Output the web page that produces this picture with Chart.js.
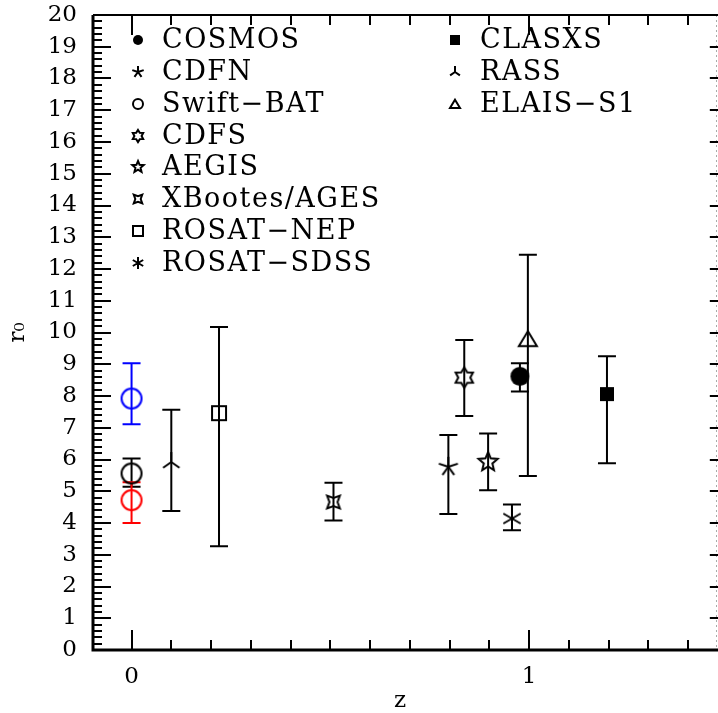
<!DOCTYPE html>
<html>
<head>
<meta charset="utf-8">
<script src="https://cdn.jsdelivr.net/npm/chart.js@4"></script>
<style>
html, body { margin: 0; padding: 0; background: #fff; overflow: hidden; }
#wrap { width: 718px; height: 713px; position: relative; }
</style>
</head>
<body>
<div id="wrap"><canvas id="r0Chart" width="718" height="713"></canvas></div>
<script>
// tick labels
const xTickValues = [0, 1];
const yTickValues = [0, 1, 2, 3, 4, 5, 6, 7, 8, 9, 10, 11, 12, 13, 14, 15, 16, 17, 18, 19, 20];

// surveys: z, r0, lower and upper end of error bar
const cosmosZ = [0.977], cosmosR = [8.62], cosmosLo = [8.14], cosmosHi = [9.03];
const cdfnZ = [0.797], cdfnR = [5.77], cdfnLo = [4.28], cdfnHi = [6.77];
const swiftZ = [0, 0, 0], swiftR = [7.92, 5.56, 4.72], swiftLo = [7.11, 5.14, 4.0], swiftHi = [9.03, 6.03, 5.28];
const cdfsZ = [0.837], cdfsR = [8.58], cdfsLo = [7.37], cdfsHi = [9.76];
const aegisZ = [0.897], aegisR = [5.92], aegisLo = [5.03], aegisHi = [6.82];
const xbootesZ = [0.508], xbootesR = [4.66], xbootesLo = [4.08], xbootesHi = [5.27];
const nepZ = [0.22], nepR = [7.46], nepLo = [3.27], nepHi = [10.17];
const sdssZ = [0.957], sdssR = [4.14], sdssLo = [3.77], sdssHi = [4.58];
const clasxsZ = [1.196], clasxsR = [8.06], clasxsLo = [5.88], clasxsHi = [9.25];
const rassZ = [0.10], rassR = [5.92], rassLo = [4.38], rassHi = [7.57];
const elaisZ = [0.997], elaisR = [9.8], elaisLo = [5.48], elaisHi = [12.45];

const swiftColors = ['#0000ff', '#000000', '#ff0000'];
const FONT = '"DejaVu Serif", "Liberation Serif", serif';

// x range: starts at z = -0.097, one unit of z is 397.5 px wide
const X_MIN = -0.097;
const X_UNIT_PX = 397.5;

// draws a marker into its own small canvas, used as pointStyle and in the legend
function marker(kind, r, color, filled) {
    const lw = 2;
    const s = Math.ceil(2 * r + 2 * lw + 2);
    const cv = document.createElement('canvas');
    cv.width = s;
    cv.height = s;
    const g = cv.getContext('2d');
    g.translate(s / 2, s / 2);
    g.strokeStyle = color;
    g.fillStyle = color;
    g.lineWidth = lw;
    g.beginPath();
    const star = (n, ri, rot) => {
        for (let i = 0; i < 2 * n; i++) {
            const a = rot + i * Math.PI / n;
            const rr = i % 2 ? ri : r;
            if (i === 0) g.moveTo(rr * Math.cos(a), rr * Math.sin(a));
            else g.lineTo(rr * Math.cos(a), rr * Math.sin(a));
        }
        g.closePath();
    };
    const spokes = angles => {
        angles.forEach(d => {
            const a = d * Math.PI / 180;
            g.moveTo(0, 0);
            g.lineTo(r * Math.cos(a), r * Math.sin(a));
        });
    };
    if (kind === 'circle') g.arc(0, 0, r, 0, 2 * Math.PI);
    else if (kind === 'square') g.rect(-r, -r, 2 * r, 2 * r);
    else if (kind === 'triangle') {
        g.moveTo(0, -r * 0.85);
        g.lineTo(r, r * 0.8);
        g.lineTo(-r, r * 0.8);
        g.closePath();
    }
    else if (kind === 'star5') star(5, r * 0.45, -Math.PI / 2);
    else if (kind === 'star6') star(6, r * 0.6, -Math.PI / 2);
    else if (kind === 'star4') star(4, r * 0.45, -Math.PI / 4);
    else if (kind === 'ast5') spokes([-90, -18, 54, 126, 198]);
    else if (kind === 'ast6') spokes([-90, -30, 30, 90, 150, 210]);
    else if (kind === 'rass') spokes([-90, 35, 145]);
    if (filled) g.fill();
    else g.stroke();
    return cv;
}

const pts = (xs, ys) => xs.map((x, i) => ({ x: x, y: ys[i] }));

function series(label, kind, r, legR, filled, xs, ys, lo, hi, colors) {
    colors = colors || xs.map(() => '#000000');
    return {
        label: label,
        data: pts(xs, ys),
        errLo: lo,
        errHi: hi,
        errColors: colors,
        pointStyle: colors.map(c => marker(kind, r, c, filled)),
        legendIcon: marker(kind, legR, '#000000', filled),
        pointRadius: r,
        showLine: false
    };
}

const datasets = [
    series('COSMOS', 'circle', 9.5, 5, true, cosmosZ, cosmosR, cosmosLo, cosmosHi),
    series('CDFN', 'ast5', 10, 6, false, cdfnZ, cdfnR, cdfnLo, cdfnHi),
    series('Swift\u2212BAT', 'circle', 10, 5, false, swiftZ, swiftR, swiftLo, swiftHi, swiftColors),
    series('CDFS', 'star6', 10, 6, false, cdfsZ, cdfsR, cdfsLo, cdfsHi),
    series('AEGIS', 'star5', 10, 6, false, aegisZ, aegisR, aegisLo, aegisHi),
    series('XBootes/AGES', 'star4', 9, 6, false, xbootesZ, xbootesR, xbootesLo, xbootesHi),
    series('ROSAT\u2212NEP', 'square', 7, 5, false, nepZ, nepR, nepLo, nepHi),
    series('ROSAT\u2212SDSS', 'ast6', 10, 6, false, sdssZ, sdssR, sdssLo, sdssHi),
    series('CLASXS', 'square', 7, 5, true, clasxsZ, clasxsR, clasxsLo, clasxsHi),
    series('RASS', 'rass', 10, 6, false, rassZ, rassR, rassLo, rassHi),
    series('ELAIS\u2212S1', 'triangle', 9, 5, false, elaisZ, elaisR, elaisLo, elaisHi)
];

// keep the z scale at a fixed px per unit whatever width the layout ends up with
const fixXRange = {
    id: 'fixXRange',
    afterLayout(chart) {
        const x = chart.scales.x;
        x.min = X_MIN;
        x.max = X_MIN + (x.right - x.left) / X_UNIT_PX;
        x.configure();
    }
};

// vertical error bars with caps, under the markers
const errorBars = {
    id: 'errorBars',
    beforeDatasetsDraw(chart) {
        const ctx = chart.ctx;
        const x = chart.scales.x, y = chart.scales.y;
        ctx.save();
        ctx.lineWidth = 2;
        chart.data.datasets.forEach(ds => {
            ds.data.forEach((p, i) => {
                const px = x.getPixelForValue(p.x);
                const lo = y.getPixelForValue(ds.errLo[i]);
                const hi = y.getPixelForValue(ds.errHi[i]);
                ctx.strokeStyle = ds.errColors[i];
                ctx.beginPath();
                ctx.moveTo(px, lo);
                ctx.lineTo(px, hi);
                ctx.moveTo(px - 9, lo);
                ctx.lineTo(px + 9, lo);
                ctx.moveTo(px - 9, hi);
                ctx.lineTo(px + 9, hi);
                ctx.stroke();
            });
        });
        ctx.restore();
    }
};

// box, inward ticks and the legend inside the plot
const frame = {
    id: 'frame',
    afterDraw(chart) {
        const ctx = chart.ctx;
        const a = chart.chartArea;
        const x = chart.scales.x, y = chart.scales.y;
        const W = chart.width;
        // the frame's right side sits at z = 1.5, just past the visible edge
        const rightX = x.getPixelForValue(1.5);
        ctx.save();

        // faint dotted line near the right edge
        ctx.strokeStyle = '#aaaaaa';
        ctx.lineWidth = 1;
        ctx.setLineDash([2, 3]);
        ctx.beginPath();
        ctx.moveTo(W - 1.5, a.top);
        ctx.lineTo(W - 1.5, a.bottom);
        ctx.stroke();
        ctx.setLineDash([]);
        ctx.strokeStyle = '#000';

        ctx.lineWidth = 2;
        ctx.beginPath();
        for (let k = 0; k <= 100; k++) {
            const v = k * 0.2;
            const py = Math.round(y.getPixelForValue(v));
            const len = k % 5 === 0 ? 18 : 9;
            ctx.moveTo(a.left, py);
            ctx.lineTo(a.left + len, py);
            ctx.moveTo(rightX, py);
            ctx.lineTo(rightX - len, py);
        }
        for (let k = 0; k <= 14; k++) {
            const v = k * 0.1;
            const px = Math.round(x.getPixelForValue(v));
            const len = k % 10 === 0 ? 20 : 10;
            ctx.moveTo(px, a.bottom);
            ctx.lineTo(px, a.bottom - len);
            ctx.moveTo(px, a.top);
            ctx.lineTo(px, a.top + len);
        }
        ctx.stroke();

        ctx.beginPath();
        ctx.moveTo(a.left, a.top);
        ctx.lineTo(W, a.top);
        ctx.stroke();
        ctx.lineWidth = 3;
        ctx.beginPath();
        ctx.moveTo(a.left, a.top);
        ctx.lineTo(a.left, a.bottom);
        ctx.lineTo(W, a.bottom);
        ctx.stroke();

        // legend
        ctx.font = '27px ' + FONT;
        ctx.letterSpacing = '1.5px';
        ctx.fillStyle = '#000';
        ctx.textBaseline = 'middle';
        chart.data.datasets.forEach((ds, i) => {
            const col = i < 8 ? 0 : 1;
            const row = col ? i - 8 : i;
            const sx = col ? 455 : 138;
            const tx = col ? 480 : 162;
            const ry = y.getPixelForValue(19.2 - row);
            const ic = ds.legendIcon;
            ctx.drawImage(ic, Math.round(sx - ic.width / 2), Math.round(ry - ic.height / 2));
            ctx.fillText(ds.label, tx, ry + 1);
        });
        ctx.restore();
    }
};

const ctx = document.getElementById('r0Chart').getContext('2d');

new Chart(ctx, {
    type: 'scatter',
    data: { datasets: datasets },
    plugins: [fixXRange, errorBars, frame],
    options: {
        responsive: false,
        animation: false,
        layout: { padding: { top: 15, right: 0, left: 0, bottom: 0 } },
        plugins: {
            legend: { display: false },
            tooltip: { enabled: false }
        },
        scales: {
            x: {
                type: 'linear',
                min: X_MIN,
                max: 1.473,
                afterFit: s => { s.height = 63; s.paddingLeft = 0; s.paddingRight = 0; },
                afterBuildTicks: s => { s.ticks = xTickValues.map(v => ({ value: v })); },
                grid: { display: false, drawTicks: false },
                border: { display: false },
                ticks: {
                    padding: 13,
                    color: '#000',
                    font: { family: FONT, size: 23 }
                },
                title: {
                    display: true,
                    text: 'z',
                    color: '#000',
                    padding: { top: 0, bottom: 0 },
                    font: { family: FONT, size: 23, lineHeight: 1 }
                }
            },
            y: {
                type: 'linear',
                min: 0,
                max: 20,
                afterFit: s => { s.width = 93; s.paddingTop = 0; s.paddingBottom = 0; },
                afterBuildTicks: s => { s.ticks = yTickValues.map(v => ({ value: v })); },
                grid: { display: false, drawTicks: false },
                border: { display: false },
                ticks: {
                    padding: 16,
                    autoSkip: false,
                    color: '#000',
                    font: { family: FONT, size: 23 }
                },
                title: {
                    display: true,
                    text: 'r\u2080',
                    color: '#000',
                    padding: { top: 4, bottom: 0 },
                    font: { family: FONT, size: 23 }
                }
            }
        }
    }
});
</script>
</body>
</html>
